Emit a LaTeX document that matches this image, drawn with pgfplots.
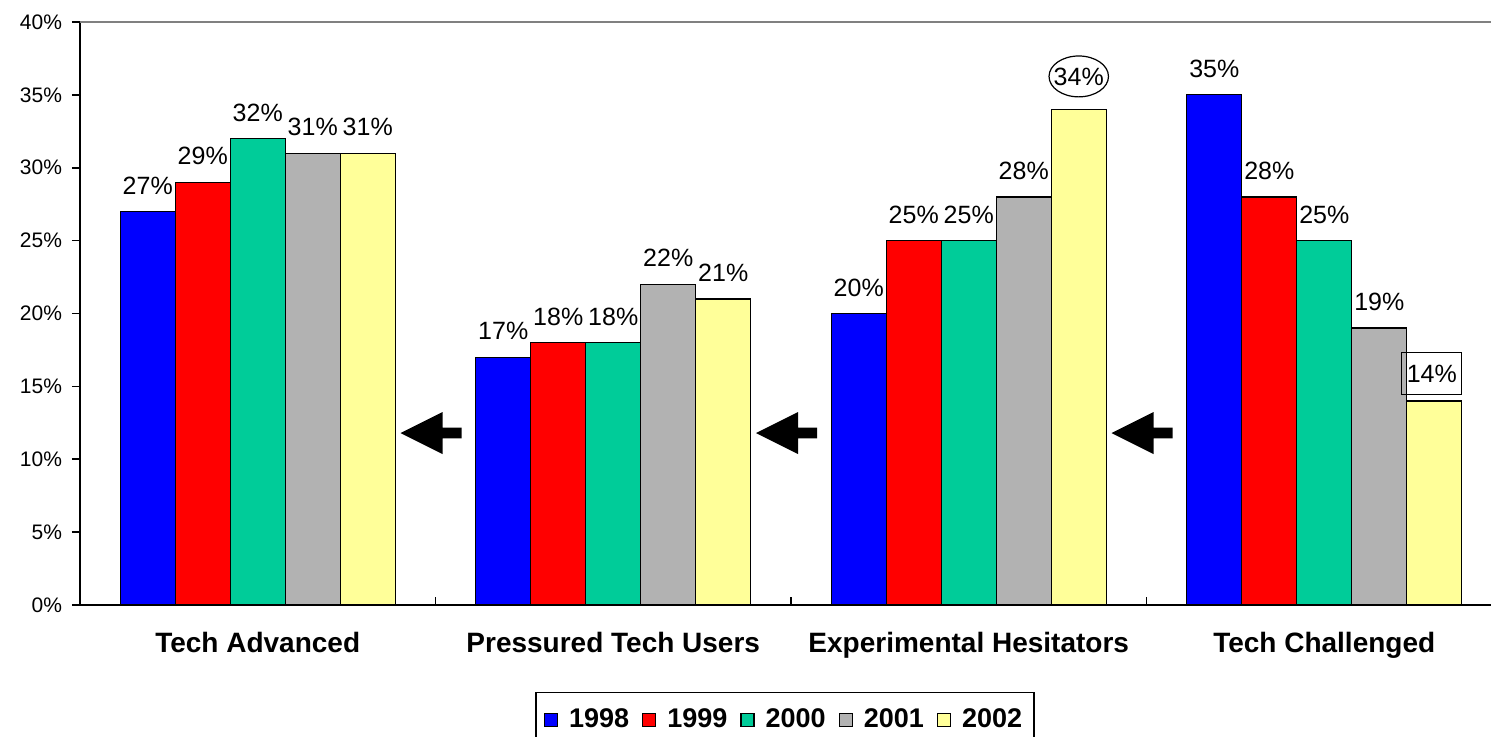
\documentclass[border=0pt]{standalone}
\usepackage{fontspec}
\setmainfont{Liberation Sans}
\usepackage{pgfplots}
\pgfplotsset{compat=1.18}
\usetikzlibrary{shapes.geometric}

\definecolor{c98}{HTML}{0000FF}
\definecolor{c99}{HTML}{FF0000}
\definecolor{c00}{HTML}{00CC99}
\definecolor{c01}{HTML}{B2B2B2}
\definecolor{c02}{HTML}{FFFF99}

\newcommand\larrow{(-17.5pt,0pt) -- (3.5pt,10.5pt) -- (3.5pt,2.65pt)
        -- (13pt,2.65pt) -- (13pt,-2.65pt) -- (3.5pt,-2.65pt) -- (3.5pt,-10.5pt) -- cycle}

\begin{document}
\begin{tikzpicture}
  \begin{axis}[scale only axis, width=711pt, height=291.5pt,
    ybar=0pt, bar width=27.5pt,
    xmin=-0.5, xmax=3.5, ymin=0, ymax=40,
    axis x line*=bottom, axis y line*=left,
    axis line style={-, line width=1pt, black},
    xtick={0.5,1.5,2.5}, xticklabels={}, xtick align=inside,
    extra x ticks={0,1,2,3},
    extra x tick labels={Tech Advanced,Pressured Tech Users,Experimental Hesitators,Tech Challenged},
    extra x tick style={major tick length=0pt,
      tick label style={font=\fontsize{14}{16}\selectfont\bfseries, yshift=-10pt}},
    ytick={0,5,10,15,20,25,30,35,40},
    yticklabels={0\%,5\%,10\%,15\%,20\%,25\%,30\%,35\%,40\%},
    ytick align=outside, major tick length=4pt,
    tick style={line width=0.8pt, black},
    yticklabel style={font=\fontsize{10.5}{12}\selectfont, xshift=-1.5pt},
    every axis plot/.append style={draw=black, line width=0.6pt},
    nodes near coords={\pgfmathprintnumber[assume math mode=true]{\pgfplotspointmeta}\%},
    every node near coord/.append style={font=\fontsize{12.5}{14}\selectfont, yshift=5pt},
    legend columns=5,
    legend style={at={(0.4958,-0.149)}, anchor=north, draw=black, line width=0.8pt,
      font=\fontsize{13.5}{15}\selectfont\bfseries, inner xsep=4pt, inner ysep=6pt,
      /tikz/every odd column/.append style={column sep=3.5pt},
      /tikz/every even column/.append style={column sep=4.5pt}},
    legend image code/.code={\draw[#1, line width=0.6pt, draw=black] (0pt,-3.25pt) rectangle (6.5pt,3.25pt);},
    clip=false]
    \addplot[fill=c98] coordinates {(0,27) (1,17) (2,20) (3,35)};
    \addplot[fill=c99] coordinates {(0,29) (1,18) (2,25) (3,28)};
    \addplot[fill=c00] coordinates {(0,32) (1,18) (2,25) (3,25)};
    \addplot[fill=c01] coordinates {(0,31) (1,22) (2,28) (3,19)};
    \addplot[fill=c02,
      coordinate style/.condition={x==2}{ellipse, draw=black, line width=0.6pt,
        inner xsep=-2pt, inner ysep=2.8pt, yshift=1pt},
      coordinate style/.condition={x==3}{rectangle, draw=black, line width=0.6pt,
        inner xsep=2.5pt, inner ysep=6pt, xshift=-1.25pt, yshift=-2pt}]
      coordinates {(0,31) (1,21) (2,34) (3,14)};
    \legend{1998,1999,2000,2001,2002}
    \draw[gray, line width=0.8pt] (rel axis cs:0,1) -- (rel axis cs:1,1);
    \fill[black, shift={(axis cs:0.5,11.8)}] \larrow;
    \fill[black, shift={(axis cs:1.5,11.8)}] \larrow;
    \fill[black, shift={(axis cs:2.5,11.8)}] \larrow;
  \end{axis}
  \pgfresetboundingbox
  \useasboundingbox (-40pt,-65.5pt) rectangle (705.5pt,302.5pt);
\end{tikzpicture}
\end{document}
